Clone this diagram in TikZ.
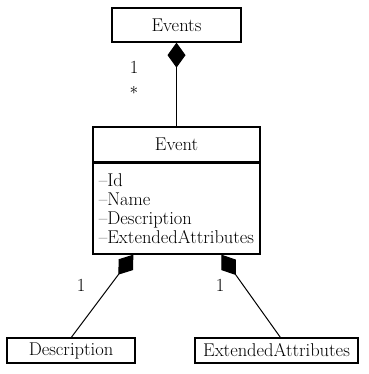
\documentclass[tikz,border=0pt]{standalone}
\usepackage{fontspec}
\usetikzlibrary{arrows.meta,calc}
\begin{document}
\begin{tikzpicture}[x=1pt,y=-1pt,
  umltext/.style={font=\fontsize{18.5}{19}\selectfont},
  box/.style={draw,line width=1.3pt,inner sep=0pt,umltext},
  lbl/.style={inner sep=0pt,umltext},
  comp/.style={line width=1pt,{Diamond[length=25pt,width=18pt]}-}]
\useasboundingbox (0,0) rectangle (368,374);

% classes
\node[box,minimum width=129pt,minimum height=34pt] (events) at (176.5,25) {Events};
\node[box,minimum width=167pt,minimum height=35pt] (event) at (176.5,144.5) {Event};
\node[box,minimum width=167pt,minimum height=91pt,align=left] (attrs) at (176.5,208.5)
  {--Id\\--Name\\--Description\\--ExtendedAttributes};
\node[box,minimum width=128pt,minimum height=25pt] (desc) at (71,350.5) {Description};
\node[box,minimum width=163pt,minimum height=25pt] (ext) at (276.5,350.5) {ExtendedAttributes};

% connector end points on the box edges
\coordinate (dsrc) at ($(attrs.south west)+(41,0)$);
\coordinate (esrc) at ($(attrs.south west)+(129,0)$);
\coordinate (dtop) at ($(desc.north west)+(65,0)$);
\coordinate (etop) at ($(ext.north west)+(86,0)$);

% compositions
\draw[comp] (events.south) -- (event.north);
\draw[comp] (dsrc) -- (dtop);
\draw[comp] (esrc) -- (etop);

% multiplicities
\node[lbl] (m1) at (134,67) {1};
\node[lbl] (m2) at (134,90) {$*$};
\node[lbl] (m3) at (81,285) {1};
\node[lbl] (m4) at (220,285) {1};
\end{tikzpicture}
\end{document}
